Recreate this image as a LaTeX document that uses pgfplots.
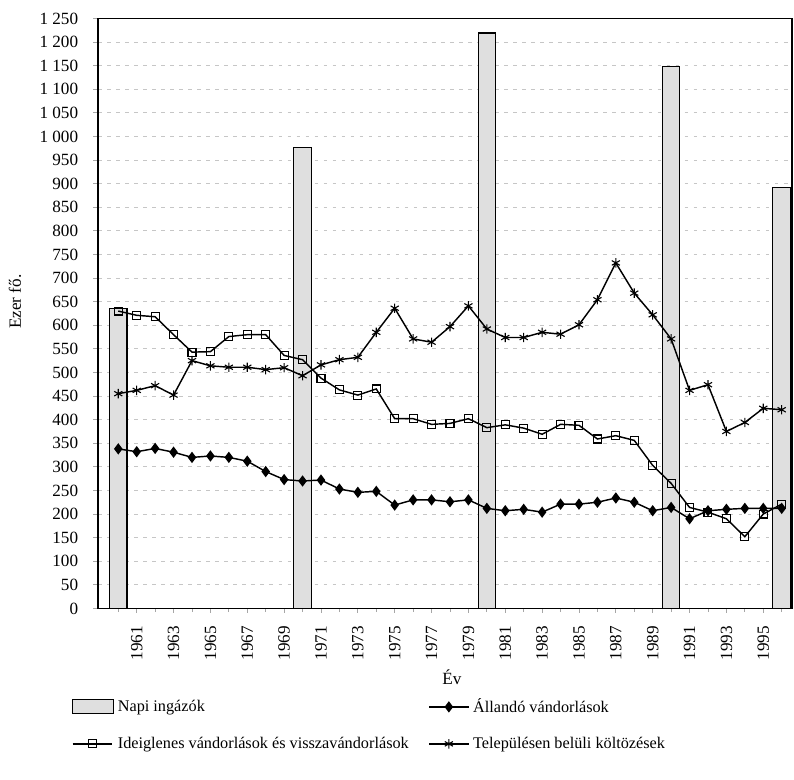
\documentclass[border=0pt]{standalone}
\usepackage{fontspec}
\setmainfont{Liberation Serif}
\usepackage{pgfplots}
\usepackage{pgfplotstable}
\pgfplotsset{compat=1.18}

% napi ingazok (oszlopok)
\pgfplotstableread{
ev   napi
1960 635
1970 977
1980 1219
1990 1148
1996 892
}\napi

% vandorlasok, ezer fo
\pgfplotstableread{
ev   allando ideigl telep
1960 338 630 455
1961 332 621 462
1962 339 618 472
1963 331 580 452
1964 320 543 525
1965 323 544 514
1966 320 576 511
1967 312 580 511
1968 290 580 506
1969 273 536 510
1970 270 527 493
1971 272 488 516
1972 253 463 527
1973 246 452 532
1974 248 465 585
1975 219 402 636
1976 230 402 571
1977 230 390 564
1978 226 392 597
1979 230 402 641
1980 212 383 592
1981 207 389 574
1982 210 382 574
1983 204 369 585
1984 221 390 581
1985 221 388 601
1986 225 359 654
1987 234 366 732
1988 225 356 668
1989 207 303 622
1990 214 265 571
1991 190 214 462
1992 207 204 474
1993 210 190 375
1994 212 152 394
1995 212 200 424
1996 212 221 421
}\vandor

\pgfplotsset{
  linelegend/.style={legend image code/.code={
    \draw[mark repeat=2,mark phase=2,##1] plot coordinates {(0pt,0pt) (11pt,0pt) (22pt,0pt)};}},
  barlegend/.style={legend image code/.code={
    \draw[##1] (0pt,-3.9pt) rectangle (22.7pt,3.9pt);}},
}

\begin{document}
\begin{tikzpicture}
\begin{axis}[
  at={(0,0)}, anchor=south west,
  scale only axis, width=384.5pt, height=326.9pt,
  xmin=1958.9, xmax=1996.56, ymin=0, ymax=1250,
  xtick={1961,1963,...,1995},
  minor xtick={1960,...,1996},
  ytick={0,50,...,1250},
  xtick pos=bottom, ytick pos=left,
  tick align=outside,
  major tick length=2.5pt, minor tick length=2pt,
  tick style={gray!70, line width=0.4pt},
  ymajorgrids,
  major grid style={gray!45, dash pattern=on 2pt off 3pt, line width=0.4pt},
  axis line style={line width=0.8pt},
  /pgf/number format/assume math mode=true,
  tick label style={font=\fontsize{9.5}{11}\selectfont},
  x tick label style={rotate=90, anchor=east, inner xsep=7pt, /pgf/number format/1000 sep={}},
  y tick label style={xshift=-5pt, /pgf/number format/1000 sep={\ }},
  xlabel={Év}, ylabel={Ezer fő.},
  label style={font=\fontsize{9.5}{11}\selectfont},
  xlabel style={at={(axis description cs:0.51,-0.116)}, anchor=center},
  ylabel style={at={(axis description cs:-0.1196,0.52)}, anchor=center},
  legend columns=2,
  legend style={at={(axis description cs:-0.038,-0.146)}, anchor=north west,
    draw=none, inner sep=0pt, row sep=8pt,
    font=\fontsize{9}{11}\selectfont},
  legend cell align=left,
]
\addplot[ybar, bar width=0.95, fill=gray!25, draw=black, line width=0.6pt, barlegend]
  table[x=ev, y=napi] {\napi};
\addlegendentry{\makebox[170pt][l]{Napi ingázók}}
\addplot[black, line width=0.8pt, mark=diamond*, mark size=2.5pt, linelegend]
  table[x=ev, y=allando] {\vandor};
\addlegendentry{Állandó vándorlások}
\addplot[black, line width=0.8pt, mark=square, mark size=2.2pt,
  mark options={fill=white, solid, line width=0.6pt}, linelegend]
  table[x=ev, y=ideigl] {\vandor};
\addlegendentry{\makebox[170pt][l]{Ideiglenes vándorlások és visszavándorlások}}
\addplot[black, line width=0.8pt, mark=asterisk, mark size=2.6pt,
  mark options={line width=0.6pt}, linelegend]
  table[x=ev, y=telep] {\vandor};
\addlegendentry{Településen belüli költözések}
\end{axis}
\pgfresetboundingbox
\path (-54.3pt,-94.5pt) rectangle (385.6pt,337.1pt);
\end{tikzpicture}
\end{document}
